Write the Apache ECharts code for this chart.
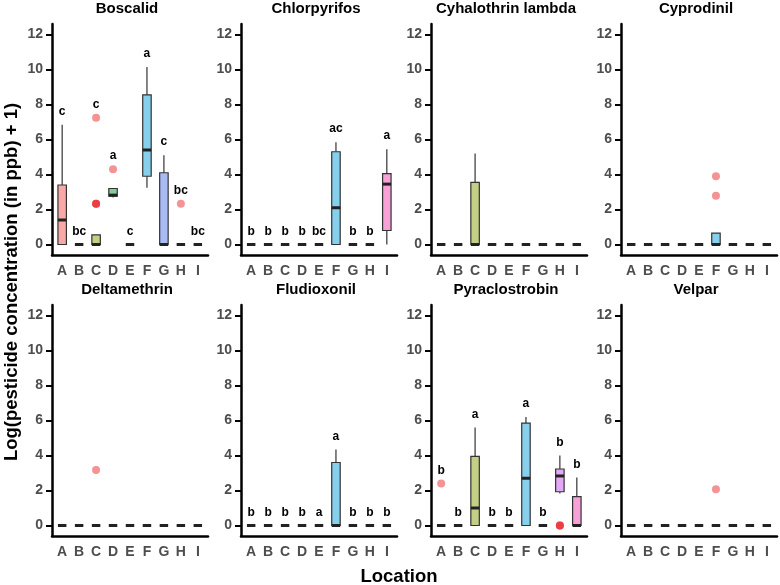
<!DOCTYPE html>
<html>
<head>
<meta charset="utf-8">
<script src="https://cdn.jsdelivr.net/npm/echarts@6/dist/echarts.min.js"></script>
<style>
  html, body { margin: 0; padding: 0; background: #fff; }
  #chart { width: 780px; height: 585px; }
</style>
</head>
<body>
<div id="chart"></div>
<script>
const locations = ['A', 'B', 'C', 'D', 'E', 'F', 'G', 'H', 'I'];
const yTicks = [0, 2, 4, 6, 8, 10, 12];
const pesticides = ['Boscalid', 'Chlorpyrifos', 'Cyhalothrin lambda', 'Cyprodinil',
  'Deltamethrin', 'Fludioxonil', 'Pyraclostrobin', 'Velpar'];

// box stats per location: [lower whisker, q1, median, q3, upper whisker]
const Z = [0, 0, 0, 0, 0];
const boscalidBox = [[0, 0, 1.4, 3.4, 6.85], Z, [0, 0, 0, 0.55, 0.55], [2.69, 2.76, 2.82, 3.2, 3.2], Z,
  [3.25, 3.9, 5.4, 8.55, 10.15], [0, 0, 0, 4.1, 5.1], Z, Z];
const chlorpyrifosBox = [Z, Z, Z, Z, Z, [0, 0, 2.1, 5.3, 5.85], Z, Z, [0, 0.8, 3.45, 4.05, 5.45]];
const cyhalothrinBox = [Z, Z, [0, 0, 0, 3.55, 5.2], Z, Z, Z, Z, Z, Z];
const cyprodinilBox = [Z, Z, Z, Z, Z, [0, 0, 0, 0.65, 0.65], Z, Z, Z];
const deltamethrinBox = [Z, Z, Z, Z, Z, Z, Z, Z, Z];
const fludioxonilBox = [Z, Z, Z, Z, Z, [0, 0, 0, 3.6, 4.35], Z, Z, Z];
const pyraclostrobinBox = [Z, Z, [0, 0, 1.0, 3.95, 5.6], Z, Z, [0, 0, 2.7, 5.85, 6.2], Z,
  [1.83, 1.93, 2.83, 3.23, 4.0], [0, 0, 0, 1.65, 2.75]];
const velparBox = [Z, Z, Z, Z, Z, Z, Z, Z, Z];

// outlying observations [location, value] (repeats = overlapping points)
const boscalidOut = [['C', 7.25], ['C', 2.33], ['C', 2.33], ['C', 2.33], ['D', 4.3], ['H', 2.33]];
const chlorpyrifosOut = [];
const cyhalothrinOut = [];
const cyprodinilOut = [['F', 3.9], ['F', 2.78]];
const deltamethrinOut = [['C', 3.17]];
const fludioxonilOut = [];
const pyraclostrobinOut = [['A', 2.4], ['H', 0], ['H', 0], ['H', 0]];
const velparOut = [['F', 2.07]];

// significance letters
const boscalidLetters = ['c', 'bc', 'c', 'a', 'c', 'a', 'c', 'bc', 'bc'];
const chlorpyrifosLetters = ['b', 'b', 'b', 'b', 'bc', 'ac', 'b', 'b', 'a'];
const fludioxonilLetters = ['b', 'b', 'b', 'b', 'a', 'a', 'b', 'b', 'b'];
const pyraclostrobinLetters = ['b', 'b', 'a', 'b', 'b', 'a', 'b', 'b', 'b'];

const panels = [
  { box: boscalidBox, out: boscalidOut, letters: boscalidLetters },
  { box: chlorpyrifosBox, out: chlorpyrifosOut, letters: chlorpyrifosLetters },
  { box: cyhalothrinBox, out: cyhalothrinOut, letters: null },
  { box: cyprodinilBox, out: cyprodinilOut, letters: null },
  { box: deltamethrinBox, out: deltamethrinOut, letters: null },
  { box: fludioxonilBox, out: fludioxonilOut, letters: fludioxonilLetters },
  { box: pyraclostrobinBox, out: pyraclostrobinOut, letters: pyraclostrobinLetters },
  { box: velparBox, out: velparOut, letters: null }
];

const fills = ['#F7A9A8', '#E3BE6E', '#C3CF84', '#86CC99', '#6FD6C2', '#86D0EC', '#A8BBF5', '#E3A9F5', '#F7A1D6'];

const panelLeft = [52, 241, 431, 621];
const panelTop = [24, 305];
const panelW = 156, panelH = 231;
const FONT = '"Liberation Sans", Arial, sans-serif';

const chart = echarts.init(document.getElementById('chart'));

const grid = [], xAxis = [], yAxis = [], series = [], graphic = [];

panels.forEach((p, k) => {
  const col = k % 4, row = Math.floor(k / 4);
  grid.push({ left: panelLeft[col], top: panelTop[row], width: panelW, height: panelH });
  xAxis.push({
    type: 'value', gridIndex: k, min: -0.6, max: 8.6,
    axisLine: { show: true, onZero: false, lineStyle: { color: '#000', width: 2.5 } },
    axisTick: { show: false },
    splitLine: { show: false },
    axisLabel: {
      customValues: locations.map((l, i) => i),
      formatter: v => locations[Math.round(v)],
      color: '#4D4D4D', fontWeight: 'bold', fontSize: 14, fontFamily: FONT, margin: 9
    }
  });
  yAxis.push({
    type: 'value', gridIndex: k, min: -0.6, max: 12.6,
    axisLine: { show: true, onZero: false, lineStyle: { color: '#000', width: 2.5 } },
    axisTick: { show: true, customValues: yTicks, length: 6, lineStyle: { color: '#000', width: 2 } },
    splitLine: { show: false },
    axisLabel: {
      customValues: yTicks,
      color: '#4D4D4D', fontWeight: 'bold', fontSize: 14, fontFamily: FONT, margin: 9
    }
  });

  series.push({
    type: 'custom', xAxisIndex: k, yAxisIndex: k, z: 2,
    data: p.box.map((b, i) => [i].concat(b)),
    encode: { x: 0, y: [1, 2, 3, 4, 5] },
    renderItem: (params, api) => {
      const x = api.value(0);
      const lo = api.value(1), q1 = api.value(2), med = api.value(3), q3 = api.value(4), hi = api.value(5);
      const half = api.size([0.25, 0])[0];
      const cx = api.coord([x, med])[0];
      const y = v => api.coord([x, v])[1];
      const ch = [];
      const ws = { stroke: '#333', lineWidth: 1.2 };
      if (hi > q3) ch.push({ type: 'line', shape: { x1: cx, y1: y(q3), x2: cx, y2: y(hi) }, style: ws });
      if (lo < q1) ch.push({ type: 'line', shape: { x1: cx, y1: y(lo), x2: cx, y2: y(q1) }, style: ws });
      if (q3 > q1) ch.push({
        type: 'rect',
        shape: { x: cx - half, y: y(q3), width: 2 * half, height: y(q1) - y(q3) },
        style: { fill: fills[x], stroke: '#333', lineWidth: 1.2 }
      });
      ch.push({ type: 'line', shape: { x1: cx - half, y1: y(med), x2: cx + half, y2: y(med) },
        style: { stroke: '#222', lineWidth: 3 } });
      return { type: 'group', children: ch };
    }
  });

  series.push({
    type: 'scatter', xAxisIndex: k, yAxisIndex: k, z: 3,
    symbolSize: 8,
    itemStyle: { color: 'rgba(232,30,36,0.6)' },
    data: p.out.map(o => [locations.indexOf(o[0]), o[1]])
  });

  if (p.letters) {
    const tops = p.box.map((b, i) => {
      let m = b[4];
      p.out.forEach(o => { if (locations.indexOf(o[0]) === i) m = Math.max(m, o[1]); });
      return m + 0.75;
    });
    series.push({
      type: 'custom', xAxisIndex: k, yAxisIndex: k, z: 4,
      data: tops.map((t, i) => [i, t]),
      encode: { x: 0, y: 1 },
      renderItem: (params, api) => {
        const pt = api.coord([api.value(0), api.value(1)]);
        return {
          type: 'text', x: pt[0], y: pt[1],
          style: {
            text: p.letters[params.dataIndex], textAlign: 'center', textVerticalAlign: 'middle',
            font: 'bold 12px ' + FONT, fill: '#000'
          }
        };
      }
    });
  }

  graphic.push({
    type: 'text', x: panelLeft[col] + panelW / 2 - 3, y: row === 0 ? 9 : 290,
    style: {
      text: pesticides[k], textAlign: 'center', textVerticalAlign: 'middle',
      font: 'bold 15px ' + FONT, fill: '#000'
    }
  });
});

graphic.push({
  type: 'text', x: 399, y: 577,
  style: { text: 'Location', textAlign: 'center', textVerticalAlign: 'middle', font: 'bold 18.5px ' + FONT, fill: '#000' }
});
graphic.push({
  type: 'text', x: 12, y: 282, rotation: Math.PI / 2,
  style: {
    text: 'Log(pesticide concentration (in ppb) + 1)', textAlign: 'center', textVerticalAlign: 'middle',
    font: 'bold 18.5px ' + FONT, fill: '#000'
  }
});

chart.setOption({
  animation: false,
  backgroundColor: '#fff',
  grid: grid,
  xAxis: xAxis,
  yAxis: yAxis,
  series: series,
  graphic: graphic
});
</script>
</body>
</html>
